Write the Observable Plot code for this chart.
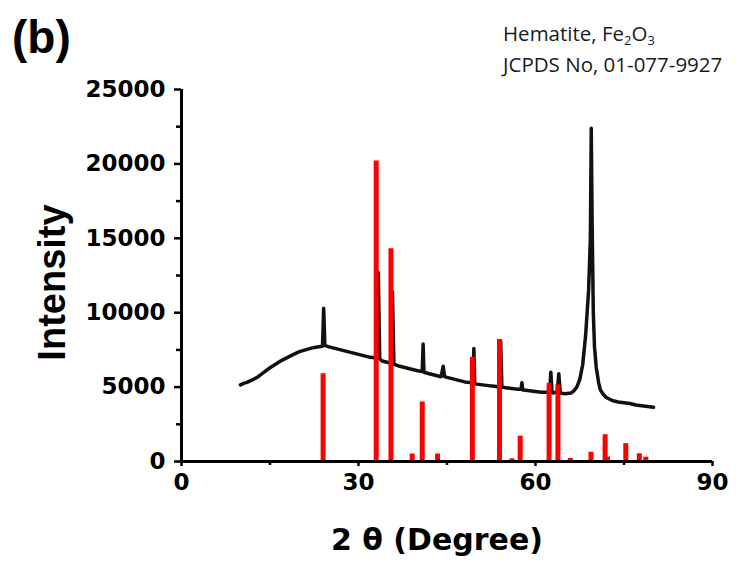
<!DOCTYPE html>
<html><head><meta charset="utf-8">
<script src="https://cdn.jsdelivr.net/npm/d3@7"></script>
<script src="https://cdn.jsdelivr.net/npm/@observablehq/plot@0.6"></script>
<style>
body{margin:0;background:#fff;}
#wrap{position:relative;width:743px;height:565px;overflow:hidden;}
.panel{position:absolute;left:12px;top:14px;font-family:"Liberation Sans";font-weight:bold;font-size:46px;line-height:46px;color:#000;}
.ann{position:absolute;left:503px;top:19px;font-family:"Open Sans";font-size:20.5px;line-height:28px;color:#1a1a1a;white-space:nowrap;}
.ann .sb{font-size:13px;position:relative;top:4px;}
</style></head><body>
<div id="wrap"></div>
<script>
// JCPDS reference lines (2θ, intensity)
const refAngle     = [24.0, 33.0, 35.5, 39.1, 40.8, 43.4, 49.3, 53.9, 56.0, 57.4, 62.3, 63.8, 65.9, 69.4, 71.8, 72.2, 75.3, 77.6, 78.7];
const refIntensity = [5900, 20200, 14300, 500, 4000, 500, 7000, 8200, 180, 1700, 5250, 5150, 200, 620, 1800, 300, 1200, 520, 290];

// measured XRD scan (2θ, intensity)
const scanAngle = [10.0,10.5,11,12,13,14,15,16,17,18,19,20,21,22,23,23.9,24.1,24.3,25,26,27,28,29,30,31,32,33.1,33.35,33.6,34,35,35.5,35.75,36.0,37,38,39,40,40.8,40.95,41.1,42,43,44,44.35,44.6,45,46,47,48,49,49.4,49.55,49.7,50,51,52,53,53.9,54.1,54.3,55,56,57,57.55,57.7,57.85,58,59,60,61,62,62.4,62.6,62.8,63,63.7,63.95,64.2,65,66,66.5,67,67.5,68,68.5,69,69.3,69.45,69.6,69.8,70,70.3,70.7,71,71.5,72,73,74,75,76,77,78,79,80];
const scanIntensity = [5150,5250,5300,5480,5700,6000,6300,6550,6800,7000,7200,7380,7500,7620,7700,7750,10300,7800,7700,7600,7500,7400,7300,7200,7100,7000,6950,12700,6900,6750,6650,6650,11400,6550,6400,6300,6200,6100,6050,7900,6000,5900,5800,5700,6400,5700,5650,5550,5450,5350,5300,5280,7600,5250,5200,5150,5100,5050,5000,8100,5000,4950,4900,4850,4850,5300,4800,4800,4750,4700,4650,4650,4700,6000,4650,4600,4700,5900,4600,4550,4600,4750,5000,5500,6500,8500,11500,15000,22400,16000,10000,7700,6300,5300,4800,4500,4300,4100,4000,3950,3900,3800,3750,3700,3650];

const xTicks = [0, 30, 60, 90];
const xMinor = [15, 45, 75];
const yTicks = [0, 5000, 10000, 15000, 20000, 25000];
const yMinor = [2500, 7500, 12500, 17500, 22500];

const xTitle = "2 θ (Degree)";
const yTitle = "Intensity";

const ref = refAngle.map((a, i) => ({a, v: refIntensity[i]}));
const scan = scanAngle.map((a, i) => ({a, v: scanIntensity[i]}));

const tickFont = {fontFamily: "DejaVu Sans", fontWeight: "bold", fontSize: 23};

const chart = Plot.plot({
  width: 743, height: 565,
  marginLeft: 181, marginRight: 31, marginTop: 89, marginBottom: 104,
  style: {background: "transparent", color: "#000"},
  x: {domain: [0, 90]},
  y: {domain: [0, 25000]},
  marks: [
    Plot.line(scan, {x: "a", y: "v", stroke: "#111", strokeWidth: 3.5, strokeLinejoin: "round"}),
    Plot.ruleX(ref, {x: "a", y1: 0, y2: "v", stroke: "#ff0000", strokeWidth: 5}),
    Plot.ruleX([xTicks[0]], {stroke: "#000", strokeWidth: 3}),
    Plot.ruleY([yTicks[0]], {stroke: "#000", strokeWidth: 3}),
    Plot.axisY(yTicks, {tickSize: 7, tickPadding: 9, tickFormat: d3.format("d"), strokeWidth: 2.5, label: null, ...tickFont}),
    Plot.axisY(yMinor, {tickSize: 5, tickFormat: () => "", strokeWidth: 2.5, label: null}),
    Plot.axisX(xTicks, {tickSize: 5, tickPadding: 7, tickFormat: d3.format("d"), strokeWidth: 2.5, label: null, ...tickFont}),
    Plot.axisX(xMinor, {tickSize: 4, tickFormat: () => "", strokeWidth: 2.5, label: null}),
    Plot.text([yTitle], {frameAnchor: "left", textAnchor: "middle", lineAnchor: "middle", dx: -129, dy: 7, rotate: -90, fontSize: 38, fontWeight: "bold", fontFamily: "Liberation Sans", fill: "#000"}),
    Plot.text([xTitle], {frameAnchor: "bottom", textAnchor: "middle", lineAnchor: "bottom", dx: -10, dy: 88, fontSize: 30, fontWeight: "bold", fontFamily: "DejaVu Sans", fill: "#000"})
  ]
});

const wrap = document.getElementById("wrap");
wrap.appendChild(chart);
const panel = document.createElement("div");
panel.className = "panel";
panel.textContent = "(b)";
wrap.appendChild(panel);
const ann = document.createElement("div");
ann.className = "ann";
ann.innerHTML = 'Hematite, Fe<span class="sb">2</span>O<span class="sb">3</span><br>JCPDS No, 01-077-9927';
wrap.appendChild(ann);
chart.style.position = "absolute";
chart.style.left = "0px";
chart.style.top = "0px";
</script>
</body></html>
